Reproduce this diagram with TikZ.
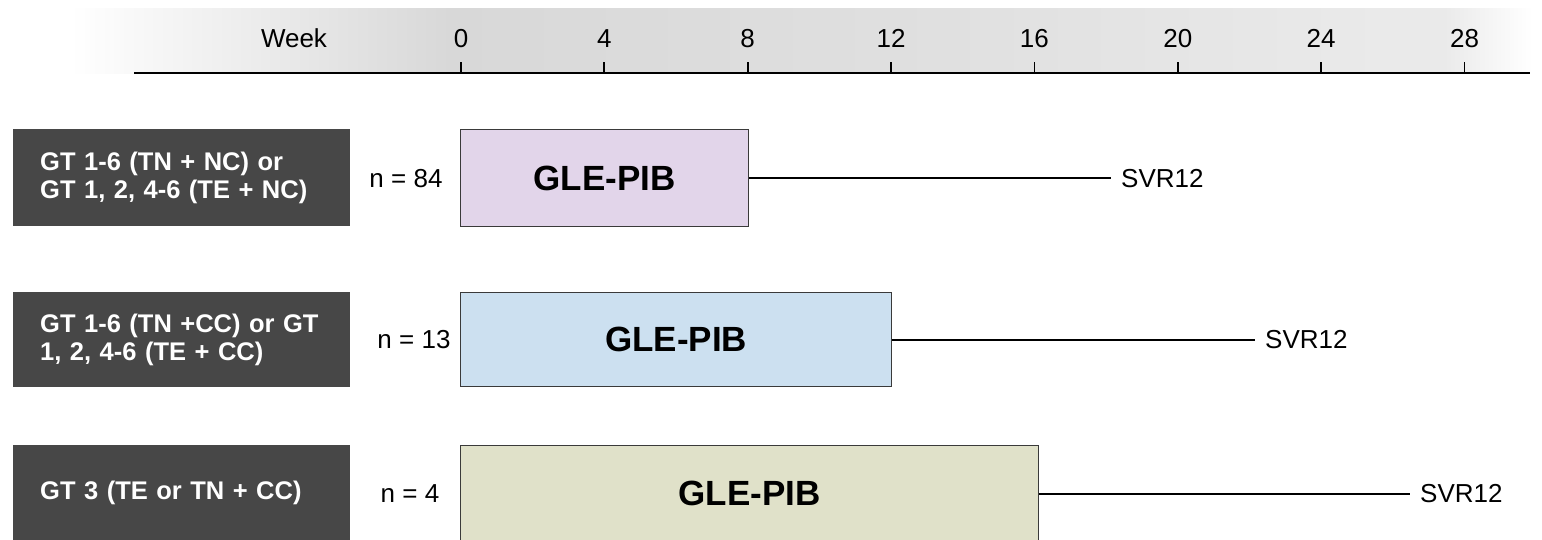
\documentclass[tikz,border=0pt]{standalone}
\usepackage{fontspec}
\setmainfont{Liberation Sans}
\definecolor{dkbox}{HTML}{474747}
\definecolor{lav}{HTML}{E2D5EA}
\definecolor{lblue}{HTML}{CCE0F0}
\definecolor{beige}{HTML}{E0E1C9}
\definecolor{hgL}{HTML}{F0F0F0}
\definecolor{hgA}{HTML}{D8D8D8}
\definecolor{hgB}{HTML}{E0E0E0}
\definecolor{hgC}{HTML}{EAEAEA}
\definecolor{edge}{HTML}{3A3A3A}
% TikZ maps the central 50bp (25bp..75bp) of a shading onto the path
\pgfdeclarehorizontalshading{bandshade}{100bp}{color(0bp)=(white); color(25bp)=(white); color(30bp)=(hgL); color(38bp)=(hgA); color(55bp)=(hgB); color(70bp)=(hgC); color(72bp)=(hgC); color(75bp)=(white); color(100bp)=(white)}
\begin{document}
\begin{tikzpicture}[x=1pt,y=-1pt,
  grp/.style={fill=dkbox, draw=none, text=white, anchor=north west,
    font=\bfseries\fontsize{25.5}{28}\selectfont, align=left,
    inner xsep=27pt, inner ysep=0pt, text width=283pt, minimum height=97pt},
  tx/.style={draw=edge, line width=1.2pt, anchor=north west, minimum height=97pt,
    font=\bfseries\fontsize{35}{37}\selectfont, inner sep=0pt},
  lbl/.style={font=\fontsize{26}{28}\selectfont, inner sep=0pt},
  conn/.style={line width=1.8pt, black},
  axis/.style={line width=1.9pt, black}]
\useasboundingbox (0,0) rectangle (1542,539);
% header band
\shade[shading=bandshade] (70,8) rectangle (1532,73);
% axis
\draw[axis] (134,73) -- (1530,73);
\node[lbl, anchor=base] (week) at (294,47) {Week};
\foreach \w in {0,4,...,28}{
  \pgfmathsetmacro{\xx}{461+35.84*\w}
  \node[lbl, anchor=base] (t\w) at (\xx,47) {\w};
  \draw[axis] (\xx,62) -- (\xx,73);
}
% row 1
\node[grp] (g1) at (13,129) {GT 1-6 (TN + NC) or\\GT 1, 2, 4-6 (TE + NC)};
\node[tx, fill=lav, minimum width=288pt] (b1) at (460,129) {GLE-PIB};
\node[lbl] (n1) at (406,0 |- b1.west) {n = 84};
\coordinate (e1) at (1111,0 |- b1.east);
\draw[conn] (b1.east) -- (e1);
\node[lbl, anchor=west] (s1) at ([xshift=10pt]e1) {SVR12};
% row 2
\node[grp, minimum height=95pt] (g2) at (13,292) {GT 1-6 (TN +CC) or GT\\1, 2, 4-6 (TE + CC)};
\node[tx, fill=lblue, minimum width=431pt, minimum height=94pt] (b2) at (460,292) {GLE-PIB};
\node[lbl] (n2) at (414,0 |- b2.west) {n = 13};
\coordinate (e2) at (1255,0 |- b2.east);
\draw[conn] (b2.east) -- (e2);
\node[lbl, anchor=west] (s2) at ([xshift=10pt]e2) {SVR12};
% row 3
\node[grp, minimum height=96pt] (g3) at (13,445) {GT 3 (TE or TN + CC)};
\node[tx, fill=beige, minimum width=578pt, minimum height=96pt] (b3) at (460,445) {GLE-PIB};
\node[lbl] (n3) at (410,0 |- b3.west) {n = 4};
\coordinate (e3) at (1410,0 |- b3.east);
\draw[conn] (b3.east) -- (e3);
\node[lbl, anchor=west] (s3) at ([xshift=10pt]e3) {SVR12};
\end{tikzpicture}
\end{document}
